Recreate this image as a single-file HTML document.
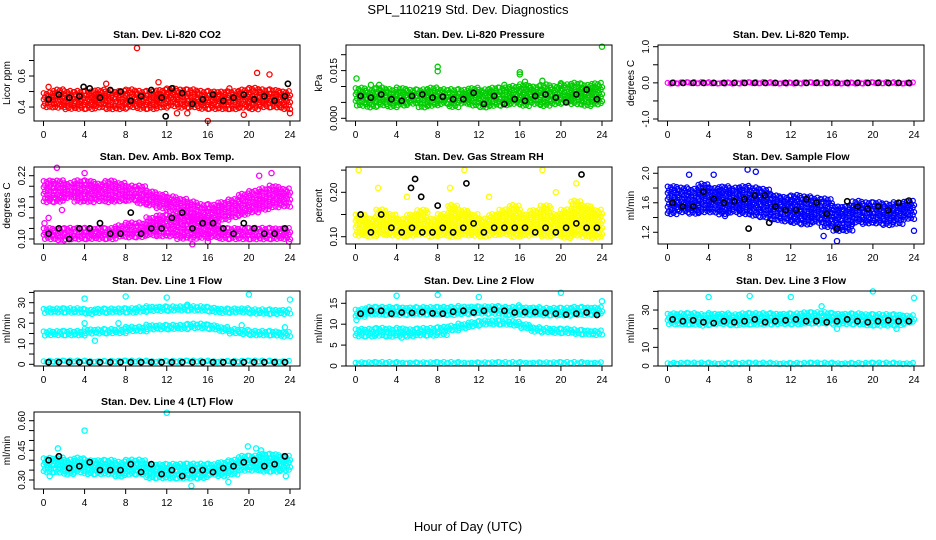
<!DOCTYPE html>
<html><head><meta charset="utf-8"><style>
body{margin:0;background:#fff}
svg{display:block;font-family:"Liberation Sans",sans-serif}
</style></head><body>
<svg id="c" width="936" height="540" viewBox="0 0 936 540" xmlns="http://www.w3.org/2000/svg">
<text x="468" y="14" text-anchor="middle" font-size="13">SPL_110219  Std. Dev. Diagnostics</text>
<text x="468" y="531" text-anchor="middle" font-size="13">Hour of Day (UTC)</text>
</svg>
<script>
const hourTimes=[0.5,1.5,2.5,3.5,4.5,5.5,6.5,7.5,8.5,9.5,10.5,11.5,12.5,13.5,14.5,15.5,16.5,17.5,18.5,19.5,20.5,21.5,22.5,23.5];
const xTicks=[0,4,8,12,16,20,24];
// CO2
const co2Lo=[0.39,0.38,0.38,0.37,0.38,0.39,0.38,0.38,0.38,0.37,0.38,0.39,0.39,0.38,0.38,0.39,0.38,0.37,0.38,0.38,0.38,0.39,0.38,0.38];
const co2Hi=[0.49,0.51,0.50,0.50,0.50,0.51,0.50,0.50,0.51,0.50,0.50,0.51,0.52,0.51,0.51,0.50,0.50,0.50,0.50,0.51,0.52,0.51,0.51,0.50];
const co2Black=[0.45,0.48,0.46,0.47,0.52,0.46,0.51,0.50,0.44,0.47,0.51,0.46,0.52,0.49,0.42,0.45,0.48,0.44,0.46,0.48,0.45,0.47,0.44,0.47];
const co2OutX=[9.1,20.8,22.0,16.0,0.5,11.2,19.5,24.0,6.1,14.0,18.1,13.0];
const co2OutY=[0.78,0.62,0.61,0.31,0.53,0.56,0.35,0.36,0.55,0.36,0.52,0.36];
const co2BOutX=[11.9,23.8,3.9];
const co2BOutY=[0.34,0.55,0.53];
// Pressure
const prLo=[0.004,0.0035,0.004,0.0035,0.004,0.004,0.0035,0.004,0.004,0.0035,0.004,0.004,0.0035,0.004,0.0035,0.004,0.0035,0.004,0.004,0.004,0.0045,0.004,0.004,0.0045];
const prHi=[0.0095,0.009,0.0095,0.009,0.0095,0.009,0.009,0.0095,0.009,0.009,0.009,0.0095,0.009,0.0095,0.0095,0.010,0.0105,0.010,0.0105,0.010,0.0105,0.011,0.0105,0.011];
const prBlack=[0.007,0.0065,0.0075,0.006,0.0055,0.007,0.0075,0.0065,0.0068,0.006,0.006,0.008,0.0045,0.007,0.0045,0.006,0.0055,0.007,0.0075,0.0065,0.005,0.0075,0.009,0.006];
const prOutX=[0.1,8.0,8.0,24.0,16.0,16.0,2.3,18.2,20.0,1.5,14.5,16.5];
const prOutY=[0.0125,0.0162,0.0148,0.0225,0.0145,0.0138,0.0105,0.0118,0.011,0.0105,0.0105,0.0115];
// Li-820 temp
const tmpVals=[0,0,0,0,0,0,0,0,0,0,0,0,0,0,0,0,0,0,0,0,0,0,0,0];
const tmpBlack=[0,0,0,0,0,0,0,0,0,0,0,0,0,0,0,0,0,0,0,0,0,0,0,0];
// Amb box temp
const ambUpLo=[0.17,0.17,0.175,0.17,0.17,0.17,0.165,0.17,0.17,0.165,0.16,0.155,0.15,0.14,0.135,0.13,0.13,0.135,0.14,0.145,0.15,0.155,0.16,0.16];
const ambUpHi=[0.21,0.21,0.205,0.21,0.21,0.205,0.21,0.205,0.20,0.20,0.19,0.185,0.18,0.175,0.17,0.165,0.165,0.17,0.175,0.185,0.19,0.195,0.20,0.195];
const ambLowLo=[0.10,0.098,0.10,0.10,0.098,0.10,0.10,0.10,0.10,0.10,0.105,0.105,0.105,0.10,0.10,0.10,0.10,0.098,0.10,0.10,0.098,0.10,0.10,0.098];
const ambLowHi=[0.12,0.118,0.12,0.12,0.12,0.12,0.12,0.125,0.13,0.13,0.14,0.145,0.145,0.14,0.14,0.135,0.13,0.12,0.12,0.12,0.12,0.12,0.12,0.12];
const ambBlack=[0.11,0.12,0.10,0.12,0.12,0.13,0.11,0.11,0.15,0.11,0.12,0.12,0.14,0.15,0.12,0.13,0.13,0.12,0.11,0.13,0.12,0.11,0.11,0.12];
const ambOutX=[1.3,4.0,22.2,21.0,0.1,16.0,12.3,14.5,23.9,0.5,1.8];
const ambOutY=[0.235,0.225,0.225,0.22,0.13,0.095,0.17,0.09,0.095,0.14,0.155];
// RH
const rhLo=[0.10,0.098,0.10,0.10,0.098,0.10,0.10,0.098,0.10,0.10,0.10,0.098,0.10,0.10,0.10,0.098,0.10,0.10,0.10,0.10,0.098,0.10,0.10,0.098];
const rhHi=[0.15,0.14,0.16,0.15,0.14,0.15,0.16,0.14,0.15,0.17,0.16,0.15,0.14,0.15,0.16,0.17,0.15,0.16,0.17,0.15,0.16,0.18,0.17,0.16];
const rhBlack=[0.15,0.11,0.15,0.12,0.11,0.12,0.11,0.11,0.12,0.11,0.12,0.13,0.11,0.12,0.12,0.12,0.12,0.11,0.12,0.11,0.12,0.13,0.12,0.12];
const rhOutX=[0.3,10.6,18.2,2.2,9.2,21.5,5.0,13.0,19.5];
const rhOutY=[0.25,0.25,0.25,0.21,0.21,0.22,0.19,0.19,0.20];
const rhBOutX=[5.8,6.4,5.4,8.0,22.0,10.8];
const rhBOutY=[0.23,0.19,0.21,0.17,0.24,0.22];
// Sample flow
const sfLo=[1.45,1.45,1.45,1.48,1.47,1.45,1.45,1.45,1.42,1.40,1.35,1.32,1.30,1.30,1.30,1.28,1.22,1.22,1.30,1.32,1.32,1.30,1.32,1.35];
const sfHi=[1.82,1.80,1.78,1.85,1.80,1.82,1.80,1.82,1.80,1.78,1.70,1.68,1.70,1.68,1.66,1.65,1.55,1.55,1.62,1.60,1.60,1.58,1.60,1.62];
const sfBlack=[1.6,1.55,1.55,1.75,1.65,1.6,1.62,1.65,1.7,1.7,1.55,1.5,1.5,1.65,1.6,1.45,1.25,1.62,1.55,1.52,1.55,1.5,1.6,1.63];
const sfOutX=[2.1,7.8,8.6,16.5,15.2,24.0,5.6,4.5];
const sfOutY=[1.98,2.05,2.02,1.08,1.15,1.22,1.42,1.98];
const sfBOutX=[7.9,9.9];
const sfBOutY=[1.25,1.33];
// Line 1
const l1TopLo=[24,24,24,24,24,24,24,24,24,24.5,25,25,25,25,25,25,24.5,24,24,24,24,24,23.5,23.5];
const l1TopHi=[27,27,27,27,26.5,27,27,27,27,27.5,28,28,28,28,28,28,27.5,27,27,27,26.5,26.5,26.5,26.5];
const l1MidLo=[13,13,13,13,14,14,14,14,15,15,16,16,17,17,17,17,16,15,14,14,13.5,13.5,13,13];
const l1MidHi=[16,16,16,16,17,17,17,17,18,18,19,19,19,19,19.5,19.5,19,18,17,16.5,16,16,16,15.5];
const l1BotLo=[0.3,0.3,0.3,0.3,0.3,0.3,0.3,0.3,0.3,0.3,0.3,0.3,0.3,0.3,0.3,0.3,0.3,0.3,0.3,0.3,0.3,0.3,0.3,0.3];
const l1BotHi=[1.5,1.5,1.5,1.5,1.5,1.5,1.5,1.5,1.5,1.5,1.5,1.5,1.5,1.5,1.5,1.5,1.5,1.5,1.5,1.5,1.5,1.5,1.5,1.5];
const l1Black=[1,1,1,1,1,1,1,1,1,1,1,1,1,1,1,1,1,1,1,1,1,1,1,1];
const l1OutX=[4,8,12,20,24,4,7.3,19.3,23.5,5,14];
const l1OutY=[32,33,32.5,34,31.5,20,20,19,18,11.5,29];
// Line 2
const l2TopLo=[11.5,12,12,12,12,12,12,12,12,12,12.2,12.2,12.2,12.2,12,12,12,12,12,12,11.8,12,12,12];
const l2TopHi=[13.5,14,14,14,14,14,14,14,14,14,14.2,14.2,14.2,14.2,14,14,14,14,13.8,13.8,13.8,14,14,14];
const l2MidLo=[7,7,7.2,7,7,6.8,7.2,7.2,7.5,8,8.5,9,9.2,9.2,9.3,9.2,8.5,7.8,7.8,7.5,7.5,7.5,7.3,7.2];
const l2MidHi=[8.8,8.8,9,8.8,9,8.8,9,9,9.2,9.5,10,10.5,10.8,10.8,10.8,10.6,10,9.2,9,8.8,8.8,8.6,8.5,8.4];
const l2BotLo=[0.1,0.1,0.1,0.1,0.1,0.1,0.1,0.1,0.1,0.1,0.1,0.1,0.1,0.1,0.1,0.1,0.1,0.1,0.1,0.1,0.1,0.1,0.1,0.1];
const l2BotHi=[0.8,0.8,0.8,0.8,0.8,0.8,0.8,0.8,0.8,0.8,0.8,0.8,0.8,0.8,0.8,0.8,0.8,0.8,0.8,0.8,0.8,0.8,0.8,0.8];
const l2Black=[12.5,13.2,13.2,12.5,12.8,12.7,12.9,12.6,12.5,13,13.2,12.8,13.2,13.5,13.2,12.8,12.9,12.9,12.7,12.5,12.3,12.5,12.8,12.2];
const l2OutX=[0.1,4,8,20,24,12,4.5,15.9];
const l2OutY=[11,16.8,17,17.5,15.5,16.5,6.8,14.5];
// Line 3
const l3TopLo=[22,22,22,22,22,22,22,22,22,22,22,22,22,22,22,22,21,21,22,22,22,21,22,22];
const l3TopHi=[28,28,28,27.5,28,28,27.5,28,28,28,28,28,28,28.5,28.5,28.5,28,28,28,27.5,27.5,27.5,27.5,27];
const l3BotLo=[0.2,0.2,0.2,0.2,0.2,0.2,0.2,0.2,0.2,0.2,0.2,0.2,0.2,0.2,0.2,0.2,0.2,0.2,0.2,0.2,0.2,0.2,0.2,0.2];
const l3BotHi=[1.5,1.5,1.5,1.5,1.5,1.5,1.5,1.5,1.5,1.5,1.5,1.5,1.5,1.5,1.5,1.5,1.5,1.5,1.5,1.5,1.5,1.5,1.5,1.5];
const l3Black=[25,24,24.5,23.5,23,24,23.5,24,25,23.5,24,24.5,25,24,24,23.5,24,25,24,23.5,24,24.5,24,24];
const l3OutX=[4,8,12,20,24,15,16.5,22.3];
const l3OutY=[37,37.5,37,40,36.5,32,20,20];
// Line 4
const l4Lo=[0.33,0.33,0.33,0.33,0.32,0.32,0.32,0.32,0.32,0.32,0.31,0.31,0.31,0.31,0.31,0.31,0.32,0.32,0.33,0.34,0.34,0.34,0.34,0.34];
const l4Hi=[0.41,0.41,0.40,0.41,0.40,0.40,0.40,0.39,0.40,0.40,0.38,0.38,0.38,0.38,0.38,0.38,0.38,0.39,0.40,0.42,0.42,0.43,0.43,0.42];
const l4Black=[0.40,0.42,0.36,0.37,0.39,0.35,0.35,0.35,0.38,0.34,0.38,0.33,0.35,0.32,0.35,0.35,0.34,0.36,0.37,0.39,0.40,0.37,0.38,0.42];
const l4OutX=[4,12,19.9,20.7,0.6,14.4,18,1.4,21.2,23.6];
const l4OutY=[0.55,0.64,0.47,0.46,0.32,0.27,0.29,0.46,0.45,0.32];

const NS="http://www.w3.org/2000/svg";
const svg=document.getElementById('c');
function mk(tag,attrs,parent){const e=document.createElementNS(NS,tag);for(const k in attrs)e.setAttribute(k,attrs[k]);parent.appendChild(e);return e;}
const COLS=[34,346,658],ROWS=[[45,121],[167,244],[291,366],[412,489]];
const offs=[-5,-2,1,4];
const jit=[0,1.3,-0.8,0.6,-1.2,0.9];

function panel(name,col,row,title,ylab,ymin,ymax,yTicks,yLabels,layers){
  const x0=COLS[col],x1=x0+266,y0=ROWS[row][0],y1=ROWS[row][1];
  const g=mk('g',{},svg);
  
  
  const sx=t=>x0+9.5+t*(x1-10-x0-9.5)/24;
  const sy=v=>y1-(v-ymin)/(ymax-ymin)*(y1-y0);
  const t=mk('text',{x:(x0+x1)/2,y:y0-7,'text-anchor':'middle','font-size':'10.5','font-weight':'bold'},g);t.textContent=title;
  
  
  const pts=mk('g',{fill:'none','stroke-width':'1.2'},g);
  
  
  layers.forEach(L=>{
    if(L.lo){
      for(let i=0;i<hourTimes.length;i++){
        const yt=sy(L.hi[i]),yb=sy(L.lo[i]);let r=0;
        for(let y=yt;y<=yb+0.01;y+=3.4,r++){
          offs.forEach((o,k)=>{mk('circle',{cx:(sx(hourTimes[i])+o+(r%2?1.3:0)).toFixed(1),cy:(y+jit[(r+k+i)%6]*0.6).toFixed(1),r:2.4,stroke:L.color},pts);});
        }
      }
    } else {
      for(let i=0;i<L.y.length;i++){
        const xv=L.x?L.x[i]:hourTimes[i];
        mk('circle',{cx:sx(xv).toFixed(1),cy:sy(L.y[i]).toFixed(1),r:2.6,stroke:L.color,'stroke-width':L.color==='#000'?1.6:1.3},pts);
      }
    }
  });
  const box=mk('rect',{x:x0,y:y0,width:x1-x0,height:y1-y0,fill:'none',stroke:'#000','stroke-width':1},g);
  
  
  const xa=mk('g',{},g);
  
  
  xTicks.forEach(v=>{mk('line',{x1:sx(v),x2:sx(v),y1:y1,y2:y1+5,stroke:'#000'},xa);const l=mk('text',{x:sx(v),y:y1+17,'text-anchor':'middle','font-size':'10'},xa);l.textContent=v;});
  const ya=mk('g',{},g);
  
  
  yTicks.forEach(v=>{mk('line',{x1:x0,x2:x0-5,y1:sy(v),y2:sy(v),stroke:'#000'},ya);});
  yLabels.forEach(v=>{const yy=sy(parseFloat(v));const l=mk('text',{x:x0-9,y:yy,'text-anchor':'middle','font-size':'10',transform:`rotate(-90 ${x0-9} ${yy})`},ya);l.textContent=v;});
  const yl=mk('text',{x:x0-24,y:(y0+y1)/2,'text-anchor':'middle','font-size':'10',transform:`rotate(-90 ${x0-24} ${(y0+y1)/2})`},g);yl.textContent=ylab;
  
  
}
const R='#ff0000',G='#00cc00',M='#ff00ff',Y='#ffff00',B='#0000ff',C='#00ffff',K='#000';
panel('co2',0,0,'Stan. Dev. Li-820 CO2','Licor ppm',0.31,0.80,[0.4,0.5,0.6,0.7],['0.4','0.6'],
 [{lo:co2Lo,hi:co2Hi,color:R},{x:co2OutX,y:co2OutY,color:R},{y:co2Black,color:K},{x:co2BOutX,y:co2BOutY,color:K}]);
panel('pressure',1,0,'Stan. Dev. Li-820 Pressure','kPa',-0.00085,0.02305,[0,0.005,0.01,0.015,0.02],['0.000','0.015'],
 [{lo:prLo,hi:prHi,color:G},{x:prOutX,y:prOutY,color:G},{y:prBlack,color:K}]);
panel('li820-temp',2,0,'Stan. Dev. Li-820 Temp.','degrees C',-1.055,1.047,[-1,-0.5,0,0.5,1],['-1.0','0.0','1.0'],
 [{lo:tmpVals,hi:tmpVals,color:M},{y:tmpBlack,color:K}]);
panel('amb-box-temp',0,1,'Stan. Dev. Amb. Box Temp.','degrees C',0.0905,0.2365,[0.10,0.12,0.14,0.16,0.18,0.20,0.22],['0.10','0.16','0.22'],
 [{lo:ambUpLo,hi:ambUpHi,color:M},{lo:ambLowLo,hi:ambLowHi,color:M},{x:ambOutX,y:ambOutY,color:M},{y:ambBlack,color:K}]);
panel('gas-stream-rh',1,1,'Stan. Dev. Gas Stream RH','percent',0.0836,0.257,[0.10,0.15,0.20,0.25],['0.10','0.20'],
 [{lo:rhLo,hi:rhHi,color:Y},{x:rhOutX,y:rhOutY,color:Y},{y:rhBlack,color:K},{x:rhBOutX,y:rhBOutY,color:K}]);
panel('sample-flow',2,1,'Stan. Dev. Sample Flow','ml/min',1.041,2.085,[1.2,1.4,1.6,1.8,2.0],['1.2','1.6','2.0'],
 [{lo:sfLo,hi:sfHi,color:B},{x:sfOutX,y:sfOutY,color:B},{y:sfBlack,color:K},{x:sfBOutX,y:sfBOutY,color:K}]);
panel('line1-flow',0,2,'Stan. Dev. Line 1 Flow','ml/min',-0.83,35.7,[0,5,10,15,20,25,30,35],['0','10','20','30'],
 [{lo:l1TopLo,hi:l1TopHi,color:C},{lo:l1MidLo,hi:l1MidHi,color:C},{lo:l1BotLo,hi:l1BotHi,color:C},{x:l1OutX,y:l1OutY,color:C},{y:l1Black,color:K}]);
panel('line2-flow',1,2,'Stan. Dev. Line 2 Flow','ml/min',0,17.94,[0,5,10,15],['0','5','10','15'],
 [{lo:l2TopLo,hi:l2TopHi,color:C},{lo:l2MidLo,hi:l2MidHi,color:C},{lo:l2BotLo,hi:l2BotHi,color:C},{x:l2OutX,y:l2OutY,color:C},{y:l2Black,color:K}]);
panel('line3-flow',2,2,'Stan. Dev. Line 3 Flow','ml/min',0,40.2,[0,10,20,30,40],['0','10','30'],
 [{lo:l3TopLo,hi:l3TopHi,color:C},{lo:l3BotLo,hi:l3BotHi,color:C},{x:l3OutX,y:l3OutY,color:C},{y:l3Black,color:K}]);
panel('line4-flow',0,3,'Stan. Dev. Line 4 (LT) Flow','ml/min',0.2545,0.644,[0.30,0.35,0.40,0.45,0.50,0.55,0.60],['0.30','0.45','0.60'],
 [{lo:l4Lo,hi:l4Hi,color:C},{x:l4OutX,y:l4OutY,color:C},{y:l4Black,color:K}]);
</script>
</body></html>
